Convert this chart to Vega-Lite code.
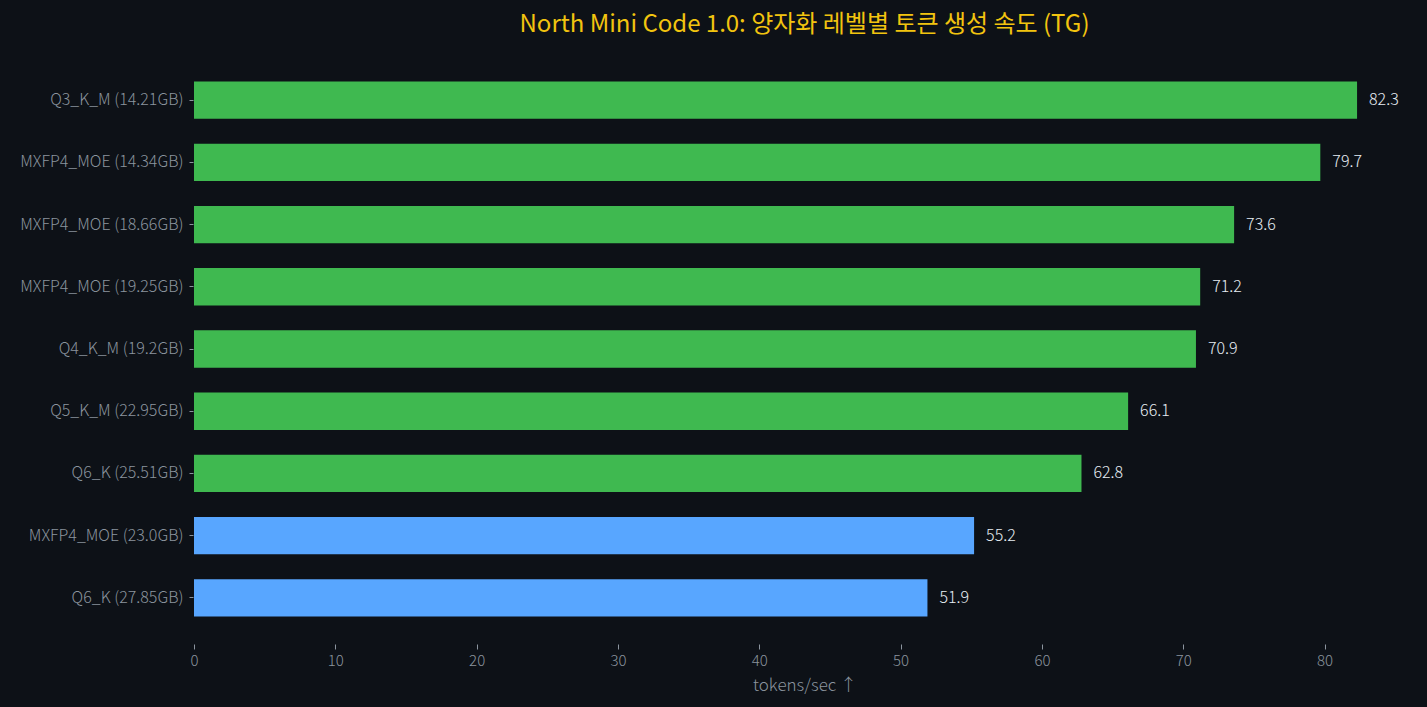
{
  "$schema": "https://vega.github.io/schema/vega-lite/v6.json",
  "width": 1221,
  "height": 560,
  "autosize": {"type": "none"},
  "padding": {"left": 194, "top": 69, "right": 12, "bottom": 78},
  "background": "#0d1117",
  "title": {
    "text": "North Mini Code 1.0: 양자화 레벨별 토큰 생성 속도 (TG)",
    "font": "Noto Sans CJK KR",
    "fontSize": 24,
    "fontWeight": "normal",
    "color": "#f2c40f",
    "offset": 32,
    "anchor": "middle"
  },
  "config": {
    "font": "Noto Sans CJK KR",
    "view": {"stroke": null},
    "axis": {
      "domain": false,
      "grid": false,
      "labelColor": "#8b949e",
      "tickColor": "#8b949e",
      "titleColor": "#8b949e",
      "labelFontSize": 16,
      "labelFontWeight": 300,
      "titleFontSize": 17,
      "titleFontWeight": 300,
      "labelFont": "Noto Sans CJK KR",
      "titleFont": "Noto Sans CJK KR",
      "labelFlush": false
    }
  },
  "data": {
    "values": [
      {"quant": "Q3_K_M (14.21GB)", "tg": 82.3, "kind": "a"},
      {"quant": "MXFP4_MOE (14.34GB)", "tg": 79.7, "kind": "a"},
      {"quant": "MXFP4_MOE (18.66GB)", "tg": 73.6, "kind": "a"},
      {"quant": "MXFP4_MOE (19.25GB)", "tg": 71.2, "kind": "a"},
      {"quant": "Q4_K_M (19.2GB)", "tg": 70.9, "kind": "a"},
      {"quant": "Q5_K_M (22.95GB)", "tg": 66.1, "kind": "a"},
      {"quant": "Q6_K (25.51GB)", "tg": 62.8, "kind": "a"},
      {"quant": "MXFP4_MOE (23.0GB)", "tg": 55.2, "kind": "b"},
      {"quant": "Q6_K (27.85GB)", "tg": 51.9, "kind": "b"}
    ]
  },
  "encoding": {
    "y": {
      "field": "quant",
      "type": "nominal",
      "sort": null,
      "title": null,
      "scale": {"paddingInner": 0.4, "paddingOuter": 0.2},
      "axis": {"tickSize": 4, "labelPadding": 6, "offset": 1}
    },
    "x": {
      "field": "tg",
      "type": "quantitative",
      "title": "tokens/sec ↑",
      "scale": {"domain": [0, 86.4], "nice": false},
      "axis": {"values": [0, 10, 20, 30, 40, 50, 60, 70, 80], "tickSize": 5, "offset": 15, "labelPadding": 4, "labelFontSize": 15, "titlePadding": 9}
    }
  },
  "layer": [
    {
      "mark": {"type": "bar"},
      "encoding": {
        "color": {
          "field": "kind",
          "type": "nominal",
          "scale": {"domain": ["a", "b"], "range": ["#3fb950", "#58a6ff"]},
          "legend": null
        }
      }
    },
    {
      "mark": {"type": "text", "align": "left", "baseline": "middle", "dx": 12, "fontSize": 16, "fontWeight": 300, "color": "#e6edf3"},
      "encoding": {
        "text": {"field": "tg", "type": "quantitative", "format": ".1f"}
      }
    }
  ]
}
